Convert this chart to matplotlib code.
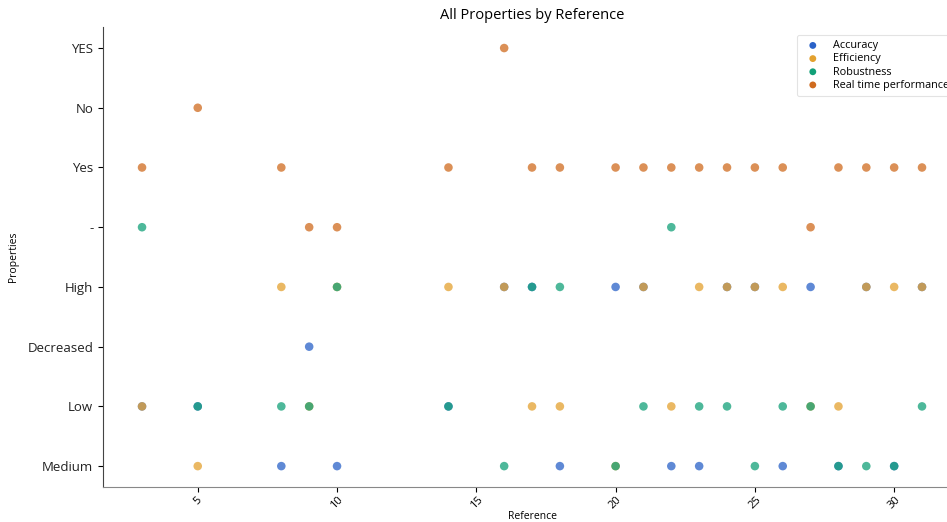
import matplotlib.pyplot as plt
import numpy as np

# y categories, bottom -> top
levels = ['Medium', 'Low', 'Decreased', 'High', '-', 'Yes', 'No', 'YES']

refs = [3, 5, 8, 9, 10, 14, 16, 17, 18, 20, 21, 22, 23, 24, 25, 26, 27, 28, 29, 30, 31]

accuracy = ['Low', 'Low', 'Medium', 'Decreased', 'Medium', 'Low', 'High', 'High', 'Medium',
            'High', 'High', 'Medium', 'Medium', 'High', 'High', 'Medium', 'High', 'Medium',
            'High', 'Medium', 'High']
efficiency = ['Low', 'Medium', 'High', 'Low', 'High', 'High', 'High', 'Low', 'Low',
              'Medium', 'High', 'Low', 'High', 'High', 'High', 'High', 'Low', 'Low',
              'High', 'High', 'High']
robustness = ['-', 'Low', 'Low', 'Low', 'High', 'Low', 'Medium', 'High', 'High',
              'Medium', 'Low', '-', 'Low', 'Low', 'Medium', 'Low', 'Low', 'Medium',
              'Medium', 'Medium', 'Low']
realtime = ['Yes', 'No', 'Yes', '-', '-', 'Yes', 'YES', 'Yes', 'Yes', 'Yes', 'Yes', 'Yes',
            'Yes', 'Yes', 'Yes', 'Yes', '-', 'Yes', 'Yes', 'Yes', 'Yes']

series = [('Accuracy', accuracy, '#2a62c8'),
          ('Efficiency', efficiency, '#e3a12f'),
          ('Robustness', robustness, '#12a078'),
          ('Real time performance', realtime, '#cf6b1f')]

plt.rcParams['font.family'] = ['Open Sans', 'DejaVu Sans']

fig = plt.figure(figsize=(9.47, 5.22), dpi=100)
ax = fig.add_axes([0.1088, 0.067, 0.906, 0.881])

for name, vals, col in series:
    y = [levels.index(v) for v in vals]
    ax.scatter(refs, y, s=38, color=col, alpha=0.75, edgecolors='none', label=name)

ax.set_yticks(range(len(levels)))
ax.set_yticklabels(levels, fontsize=9.5, color='#222222')
ax.set_ylim(-0.35, 7.35)
ax.set_xlim(1.6, 32.4)
ax.set_xticks([5, 10, 15, 20, 25, 30])
ax.tick_params(axis='x', labelrotation=45, labelsize=8, pad=2)
for s in ['top', 'right']:
    ax.spines[s].set_visible(False)
ax.spines['left'].set_color('#444444')
ax.spines['bottom'].set_color('#888888')

ax.set_title('All Properties by Reference', fontsize=10.5, pad=6)
ax.set_xlabel('Reference', fontsize=7.5, labelpad=0)
ax.set_ylabel('Properties', fontsize=7.5, labelpad=6)

# legend runs off the right edge like in the source image
leg = ax.legend(loc='upper left', bbox_to_anchor=(0.802, 0.995), fontsize=7.8,
                frameon=True, borderpad=0.5, labelspacing=0.2, handletextpad=0.9,
                markerscale=0.8)
leg.get_frame().set_edgecolor('#dddddd')
leg.get_frame().set_linewidth(0.8)
for h in leg.legend_handles:
    h.set_alpha(1)

fig.savefig('out.png', dpi=100)
